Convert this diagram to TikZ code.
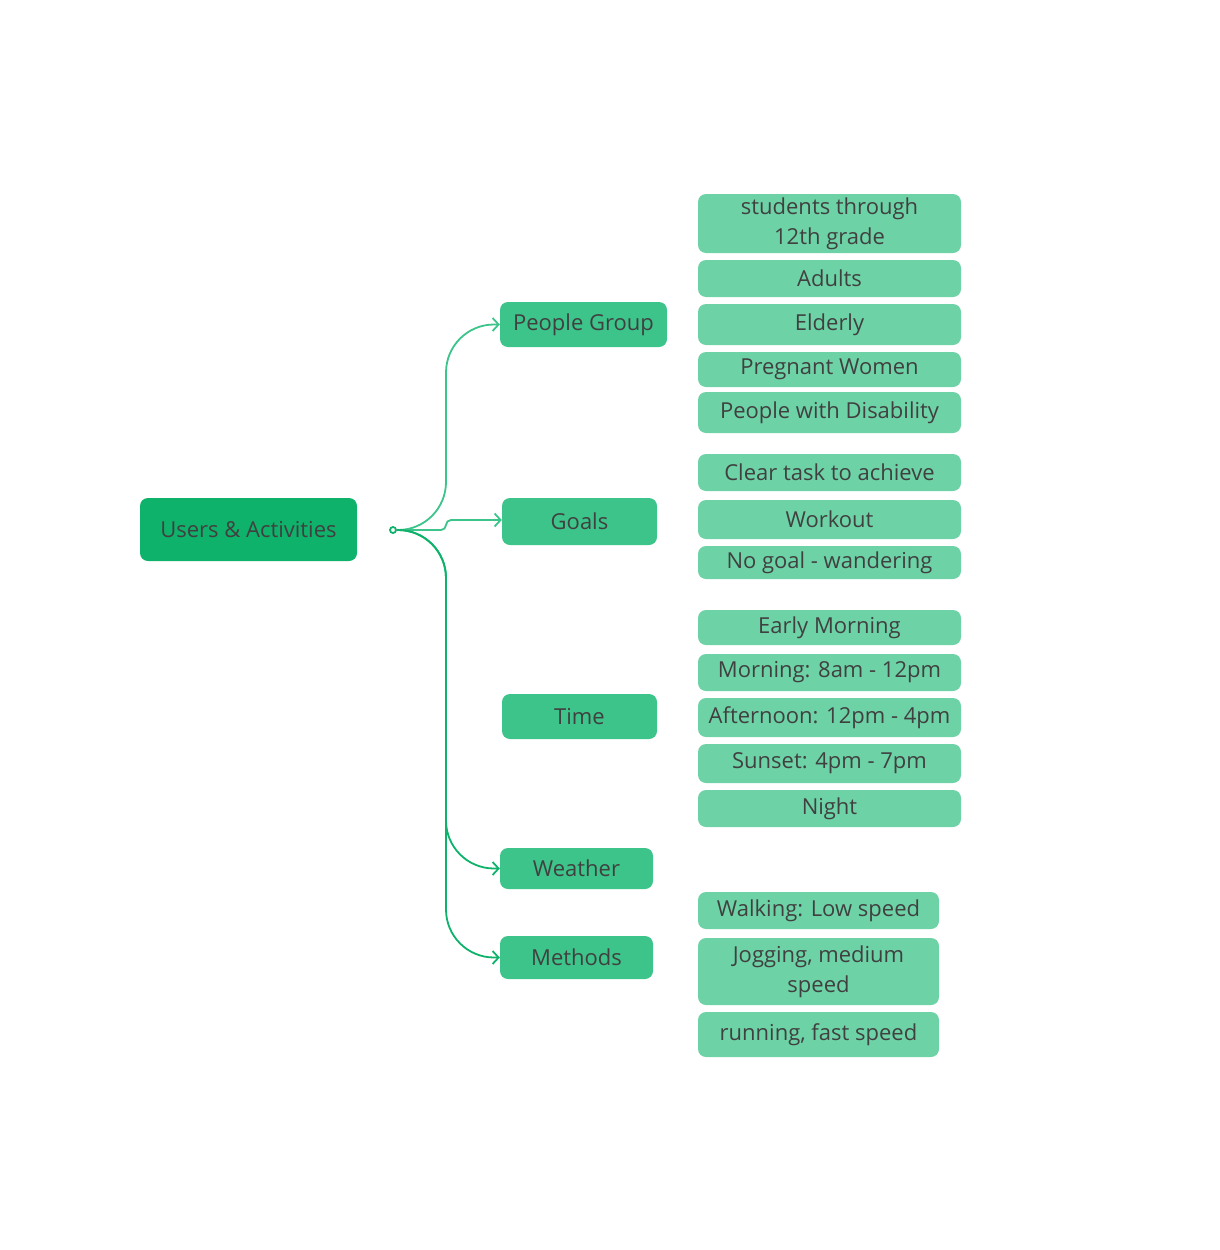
\documentclass[tikz,border=0pt]{standalone}
\usepackage{fontspec}
\setmainfont{Open Sans}
\usetikzlibrary{arrows.meta}
\definecolor{rootc}{HTML}{0EB26A}
\definecolor{midc}{HTML}{3DC48A}
\definecolor{leafc}{HTML}{6DD3A6}
\definecolor{txt}{HTML}{404040}
\definecolor{linec}{HTML}{3DC48A}
\tikzset{
  base/.style={rounded corners=8pt, inner sep=0pt, align=center, text=txt,
    font=\fontsize{22}{30}\selectfont},
  rootbox/.style={base, fill=rootc},
  midbox/.style={base, fill=midc},
  leafbox/.style={base, fill=leafc},
  conn/.style={draw=linec, line width=1.8pt, -{Straight Barb[length=6pt,width=13pt,line width=1.8pt]}},
}
\begin{document}
\begin{tikzpicture}[x=1pt,y=-1pt]
\useasboundingbox (0,0) rectangle (1220,1250);
% root and level 1
\node[rootbox, minimum width=217, minimum height=63] (root) at (248.5,529.5) {Users \& Activities};
\node[midbox, minimum width=167, minimum height=45] (pg) at (583.5,324.5) {People Group};
\node[midbox, minimum width=155, minimum height=47] (goals) at (579.5,521.5) {Goals};
\node[midbox, minimum width=155, minimum height=45] (time) at (579.5,716.5) {Time};
\node[midbox, minimum width=153, minimum height=41] (weather) at (576.5,868.5) {Weather};
\node[midbox, minimum width=153, minimum height=43] (methods) at (576.5,957.5) {Methods};
% leaves
\node[leafbox, minimum width=263, minimum height=59] (l1) at (829.5,223.5) {students through\\12th grade};
\node[leafbox, minimum width=263, minimum height=37] (l2) at (829.5,278.5) {Adults};
\node[leafbox, minimum width=263, minimum height=41] (l3) at (829.5,324.5) {Elderly};
\node[leafbox, minimum width=263, minimum height=35] (l4) at (829.5,369.5) {Pregnant Women};
\node[leafbox, minimum width=263, minimum height=41] (l5) at (829.5,412.5) {People with Disability};
\node[leafbox, minimum width=263, minimum height=37] (g1) at (829.5,472.5) {Clear task to achieve};
\node[leafbox, minimum width=263, minimum height=39] (g2) at (829.5,519.5) {Workout};
\node[leafbox, minimum width=263, minimum height=33] (g3) at (829.5,562.5) {No goal - wandering};
\node[leafbox, minimum width=263, minimum height=35] (t1) at (829.5,627.5) {Early Morning};
\node[leafbox, minimum width=263, minimum height=37] (t2) at (829.5,672.5) {Morning: 8am - 12pm};
\node[leafbox, minimum width=263, minimum height=39] (t3) at (829.5,717.5) {Afternoon: 12pm - 4pm};
\node[leafbox, minimum width=263, minimum height=39] (t4) at (829.5,763.5) {Sunset: 4pm - 7pm};
\node[leafbox, minimum width=263, minimum height=37] (t5) at (829.5,808.5) {Night};
\node[leafbox, minimum width=241, minimum height=37] (m1) at (818.5,910.5) {Walking: Low speed};
\node[leafbox, minimum width=241, minimum height=67] (m2) at (818.5,971.5) {Jogging, medium\\speed};
\node[leafbox, minimum width=241, minimum height=45] (m3) at (818.5,1034.5) {running, fast speed};
% connectors
\node[circle, draw=rootc, fill=white, line width=1.8pt, inner sep=0pt, minimum size=6pt] (hub) at (393,530) {};
\coordinate (trunk) at (446,530);
\draw[conn, rounded corners=48pt] (hub.east) -- (trunk) |- (pg.west);
\draw[conn, rounded corners=5pt] (hub.east) -- (trunk) |- ([yshift=1.5pt]goals.west);
\draw[conn, draw=rootc, rounded corners=48pt] (hub.east) -- (trunk) |- (weather.west);
\draw[conn, draw=rootc, rounded corners=48pt] (hub.east) -- (trunk) |- (methods.west);
\end{tikzpicture}
\end{document}
